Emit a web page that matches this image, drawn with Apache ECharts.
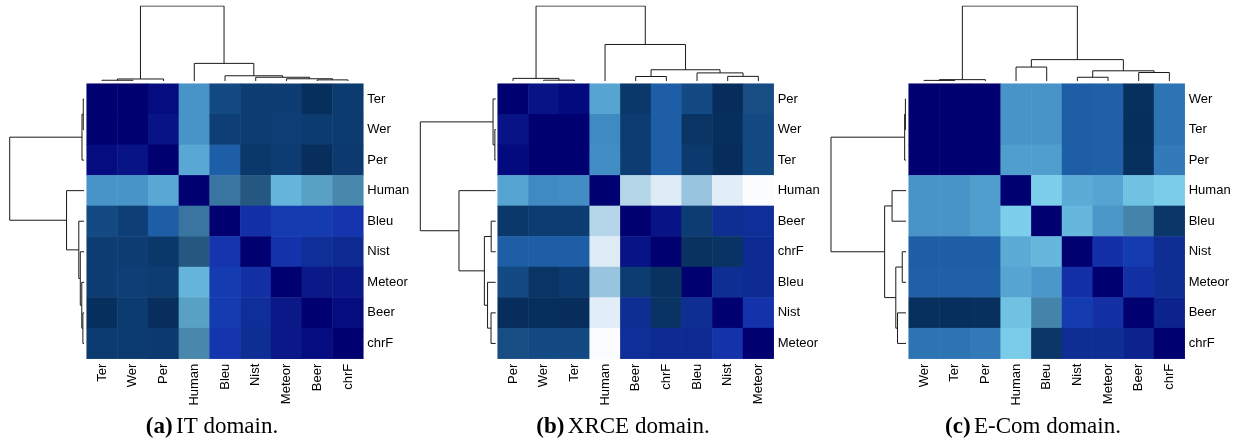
<!DOCTYPE html>
<html>
<head>
<meta charset="utf-8">
<script src="https://cdn.jsdelivr.net/npm/echarts@6/dist/echarts.min.js"></script>
<style>
html,body{margin:0;padding:0;background:#fff;}
#c{width:1242px;height:443px;}
</style>
</head>
<body>
<div id="c"></div>
<script>
// ---------- DATA ----------
const itLabels = ['Ter','Wer','Per','Human','Bleu','Nist','Meteor','Beer','chrF'];
const itValues = [
  [ 1.00,  1.00,  0.95,  0.30, -0.60, -0.72, -0.72, -0.92, -0.78],
  [ 1.00,  1.00,  0.92,  0.30, -0.70, -0.72, -0.70, -0.78, -0.78],
  [ 0.95,  0.92,  1.00,  0.24,  0.50, -0.82, -0.74, -0.93, -0.80],
  [ 0.30,  0.30,  0.24,  1.00, -0.40, -0.50,  0.20, -0.20, -0.30],
  [-0.60, -0.70,  0.50, -0.40,  1.00,  0.75,  0.68,  0.68,  0.72],
  [-0.72, -0.72, -0.82, -0.50,  0.72,  1.00,  0.74,  0.79,  0.82],
  [-0.72, -0.70, -0.74,  0.20,  0.68,  0.76,  1.00,  0.90,  0.90],
  [-0.92, -0.78, -0.93, -0.20,  0.68,  0.79,  0.90,  1.00,  0.95],
  [-0.78, -0.78, -0.80, -0.30,  0.72,  0.80,  0.90,  0.95,  1.00]
];
// linkage: [childA, childB, height]; indices >= 9 refer to earlier merges
const itLinkage = [
  [0, 1, 0.010], [9, 2, 0.027], [7, 8, 0.015], [6, 11, 0.030],
  [5, 12, 0.050], [4, 13, 0.070], [3, 14, 0.235], [10, 15, 1.000]
];

const xrceLabels = ['Per','Wer','Ter','Human','Beer','chrF','Bleu','Nist','Meteor'];
const xrceValues = [
  [ 1.00,  0.92,  0.96,  0.25, -0.82,  0.50, -0.60, -0.95, -0.58],
  [ 0.92,  1.00,  1.00,  0.33, -0.75,  0.50, -0.86, -0.92, -0.60],
  [ 0.96,  1.00,  1.00,  0.32, -0.75,  0.50, -0.80, -0.95, -0.60],
  [ 0.25,  0.33,  0.32,  1.00, -0.07, -0.03, -0.10, -0.025, 0.00],
  [-0.82, -0.75, -0.75, -0.07,  1.00,  0.92, -0.75,  0.80,  0.79],
  [ 0.50,  0.50,  0.50, -0.03,  0.92,  1.00, -0.88, -0.87,  0.82],
  [-0.60, -0.86, -0.80, -0.10, -0.75, -0.88,  1.00,  0.80,  0.82],
  [-0.95, -0.92, -0.95, -0.025, 0.80, -0.87,  0.80,  1.00,  0.74],
  [-0.58, -0.60, -0.60,  0.00,  0.79,  0.82,  0.82,  0.74,  1.00]
];
const xrceLinkage = [
  [1, 2, 0.011], [0, 9, 0.035], [4, 5, 0.060], [7, 8, 0.062],
  [6, 12, 0.108], [11, 13, 0.150], [3, 14, 0.487], [10, 15, 1.000]
];

const ecomLabels = ['Wer','Ter','Per','Human','Bleu','Nist','Meteor','Beer','chrF'];
const ecomValues = [
  [ 1.00,  1.00,  1.00,  0.30,  0.30,  0.50,  0.49, -0.90,  0.40],
  [ 1.00,  1.00,  1.00,  0.30,  0.30,  0.50,  0.49, -0.92,  0.40],
  [ 1.00,  1.00,  1.00,  0.27,  0.27,  0.50,  0.49, -0.90,  0.38],
  [ 0.30,  0.30,  0.27,  1.00,  0.10,  0.23,  0.25,  0.15,  0.11],
  [ 0.30,  0.30,  0.27,  0.10,  1.00,  0.19,  0.29, -0.32, -0.84],
  [ 0.50,  0.50,  0.50,  0.23,  0.19,  1.00,  0.75,  0.68,  0.80],
  [ 0.49,  0.49,  0.49,  0.25,  0.29,  0.75,  1.00,  0.76,  0.80],
  [-0.90, -0.92, -0.90,  0.15, -0.32,  0.68,  0.76,  1.00,  0.85],
  [ 0.40,  0.40,  0.38,  0.11, -0.84,  0.80,  0.80,  0.85,  1.00]
];
const ecomLinkage = [
  [0, 1, 0.008], [9, 2, 0.018], [3, 4, 0.186], [5, 6, 0.050],
  [7, 8, 0.113], [12, 13, 0.136], [11, 14, 0.285], [10, 15, 1.000]
];

const captionTags = ['(a)', '(b)', '(c)'];
const captionTexts = ['IT domain.', 'XRCE domain.', 'E-Com domain.'];

// ---------- STYLE / COLOUR MAP ----------
const colorAnchors = [
  [-1.00,'#052a5a'],[-0.90,'#08305e'],[-0.80,'#0c3a6e'],[-0.70,'#0e3e76'],
  [-0.60,'#144a84'],[-0.50,'#245880'],[-0.40,'#3a74a0'],[-0.30,'#4888ac'],
  [-0.20,'#58a0c4'],[-0.10,'#98c4e0'],[ 0.00,'#fafcfe'],[ 0.10,'#7ccfea'],
  [ 0.20,'#64b4dc'],[ 0.30,'#4894c8'],[ 0.40,'#2c74b4'],[ 0.50,'#1e5ea6'],
  [ 0.60,'#1a48b0'],[ 0.70,'#1438b0'],[ 0.75,'#1430a8'],[ 0.80,'#0e2e94'],
  [ 0.90,'#0a1888'],[ 0.95,'#040c80'],[ 1.00,'#000070']
];
function hexToRgb(h){ return [parseInt(h.substr(1,2),16),parseInt(h.substr(3,2),16),parseInt(h.substr(5,2),16)]; }
function rgbToHex(c){ return '#'+c.map(v=>Math.round(v).toString(16).padStart(2,'0')).join(''); }
function buildColors(anchors, steps){
  const out = [];
  for (let i = 0; i <= steps; i++) {
    const v = -1 + 2 * i / steps;
    let k = 0;
    while (k < anchors.length - 2 && v > anchors[k+1][0]) k++;
    const [v0, c0] = anchors[k], [v1, c1] = anchors[k+1];
    const t = Math.max(0, Math.min(1, (v - v0) / (v1 - v0)));
    const a = hexToRgb(c0), b = hexToRgb(c1);
    out.push(rgbToHex(a.map((x, j) => x + (b[j] - x) * t)));
  }
  return out;
}
const cmap = buildColors(colorAnchors, 200);

// ---------- LAYOUT ----------
const panels = [
  {labels: itLabels,   values: itValues,   link: itLinkage,   hx: 86.7,  hw: 276.6, dl: 9.7,   dr: 84.0,  cx: 212},
  {labels: xrceLabels, values: xrceValues, link: xrceLinkage, hx: 497.7, hw: 276.0, dl: 420.3, dr: 495.7, cx: 623},
  {labels: ecomLabels, values: ecomValues, link: ecomLinkage, hx: 908.7, hw: 276.0, dl: 831.0, dr: 906.0, cx: 1033}
];
const heatTop = 83.7, heatH = 275, dendTop = 6, dendH = 75;
const labelFont = {fontFamily: 'Liberation Sans, Arial, sans-serif', fontSize: 13, color: '#000'};

function dendroSegments(link, n) {
  const pos = [], hgt = [], segs = [];
  for (let i = 0; i < n; i++) { pos[i] = i; hgt[i] = 0; }
  link.forEach(([a, b, h], j) => {
    segs.push([[pos[a], hgt[a]], [pos[a], h], [pos[b], h], [pos[b], hgt[b]]]);
    pos[n + j] = (pos[a] + pos[b]) / 2;
    hgt[n + j] = h;
  });
  return segs;
}

const grid = [], xAxis = [], yAxis = [], series = [], graphic = [], heatIdx = [];
panels.forEach((p, k) => {
  const n = p.labels.length;
  const g0 = grid.length;
  grid.push({left: p.hx, top: heatTop, width: p.hw, height: heatH});
  grid.push({left: p.hx, top: dendTop, width: p.hw, height: dendH});
  grid.push({left: p.dl, top: heatTop, width: p.dr - p.dl, height: heatH});

  // heatmap axes
  xAxis.push({type: 'category', gridIndex: g0, data: p.labels, position: 'bottom',
    axisLine: {show: false}, axisTick: {show: false}, splitLine: {show: false},
    axisLabel: Object.assign({rotate: 90, margin: 5, interval: 0}, labelFont)});
  yAxis.push({type: 'category', gridIndex: g0, data: p.labels, inverse: true, position: 'right',
    axisLine: {show: false}, axisTick: {show: false}, splitLine: {show: false},
    axisLabel: Object.assign({margin: 4, interval: 0}, labelFont)});
  // top dendrogram axes
  xAxis.push({type: 'value', gridIndex: g0 + 1, min: -0.5, max: n - 0.5, show: false});
  yAxis.push({type: 'value', gridIndex: g0 + 1, min: 0, max: 1, show: false});
  // left dendrogram axes
  xAxis.push({type: 'value', gridIndex: g0 + 2, min: 0, max: 1, inverse: true, show: false});
  yAxis.push({type: 'value', gridIndex: g0 + 2, min: -0.5, max: n - 0.5, inverse: true, show: false});

  const data = [];
  p.values.forEach((row, r) => row.forEach((v, c) => data.push([c, r, v])));
  heatIdx.push(series.length);
  series.push({type: 'heatmap', xAxisIndex: g0, yAxisIndex: g0, data: data,
    itemStyle: {borderWidth: 0}, emphasis: {disabled: true}, silent: true});

  const segs = dendroSegments(p.link, n);
  const lineStyle = {color: '#1a1a1a', width: 1, opacity: 1};
  series.push({type: 'lines', coordinateSystem: 'cartesian2d', polyline: true,
    xAxisIndex: g0 + 1, yAxisIndex: g0 + 1, silent: true, lineStyle: lineStyle,
    data: segs.map(s => ({coords: s}))});
  series.push({type: 'lines', coordinateSystem: 'cartesian2d', polyline: true,
    xAxisIndex: g0 + 2, yAxisIndex: g0 + 2, silent: true, lineStyle: lineStyle,
    data: segs.map(s => ({coords: s.map(([x, y]) => [y, x])}))});

  graphic.push({type: 'text', x: p.cx, y: 427, silent: true,
    style: {
      text: '{b|' + captionTags[k] + '} {n|' + captionTexts[k] + '}',
      textAlign: 'center', align: 'center', textVerticalAlign: 'middle', verticalAlign: 'middle',
      fill: '#000',
      rich: {
        b: {fontFamily: 'Liberation Serif, Times New Roman, serif', fontSize: 23, fontWeight: 'bold', fill: '#000', color: '#000'},
        n: {fontFamily: 'Liberation Serif, Times New Roman, serif', fontSize: 23, fill: '#000', color: '#000'}
      }
    }});
});

const chart = echarts.init(document.getElementById('c'), null, {renderer: 'canvas'});
chart.setOption({
  animation: false,
  backgroundColor: '#ffffff',
  grid: grid, xAxis: xAxis, yAxis: yAxis,
  visualMap: {type: 'continuous', show: false, min: -1, max: 1, seriesIndex: heatIdx,
    inRange: {color: cmap}},
  series: series,
  graphic: graphic
});
</script>
</body>
</html>
